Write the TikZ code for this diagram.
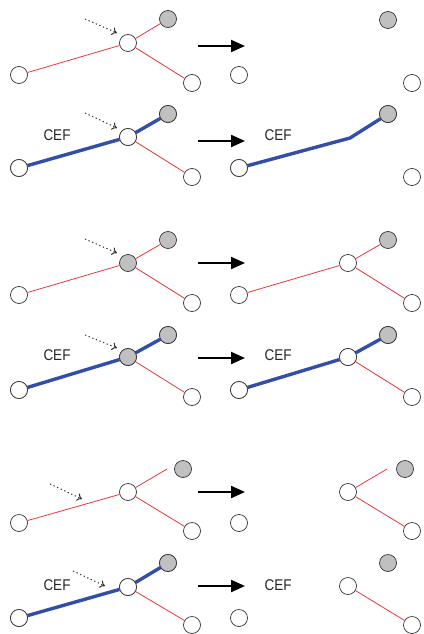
\documentclass[tikz,border=0pt]{standalone}
\usepackage{graphicx}
\usepackage{fontspec}
\setmainfont{Liberation Sans}
\usetikzlibrary{arrows.meta}
\definecolor{edgered}{RGB}{235,55,60}
\definecolor{pathblue}{RGB}{50,78,168}
\definecolor{nodegray}{RGB}{192,192,192}
\newcommand{\ceftext}{\scalebox{1}[1.15]{CEF}}
\tikzset{
  wn/.style={circle,draw=black!80,line width=0.7pt,fill=white,minimum size=17pt,inner sep=0pt},
  gn/.style={wn,fill=nodegray},
  rededge/.style={edgered,line width=0.8pt},
  blueedge/.style={pathblue,line width=3.4pt},
  bigarrow/.style={line width=2.2pt,-{Triangle[length=14pt,width=12pt]}},
  hintarrow/.style={black!80,line width=1pt,dash pattern=on 1.3pt off 2.6pt,-{To[length=5pt,width=8pt,line width=1pt]}},
  ceflabel/.style={font=\fontsize{13.5pt}{14pt}\selectfont,text=black!85,inner sep=0pt}
}
\begin{document}
\begin{tikzpicture}[x=1pt,y=-1pt]
\useasboundingbox (0,0) rectangle (423,634);
% ---------- Panel 1, row 1 ----------
\node[wn] (L1) at (19,75) {};
\node[wn] (C1) at (128,43) {};
\node[gn] (G1) at (168,19) {};
\node[wn] (R1) at (192,83) {};
\draw[rededge] (L1) -- (C1); \draw[rededge] (C1) -- (G1); \draw[rededge] (C1) -- (R1);
\coordinate (d1s) at (85,19); \coordinate (d1e) at (117,33);
\draw[hintarrow] (d1s) -- (d1e);
\coordinate (a1s) at (198,46); \coordinate (a1e) at (245,46);
\draw[bigarrow] (a1s) -- (a1e);
\node[gn] (G1r) at (388,20) {};
\node[wn] (L1r) at (239,75) {};
\node[wn] (R1r) at (412,83) {};
% ---------- Panel 1, row 2 ----------
\node[wn] (L2) at (19,168) {};
\node[wn] (C2) at (128,137) {};
\node[gn] (G2) at (168,114) {};
\node[wn] (R2) at (192,177) {};
\draw[rededge] (C2) -- (R2);
\draw[blueedge] (L2) -- (C2) -- (G2);
\node[wn] at (L2) {}; \node[wn] at (C2) {}; \node[gn] at (G2) {};
\node[ceflabel] (cef2) at (57,135) {\ceftext};
\coordinate (d2s) at (85,113); \coordinate (d2e) at (117,128);
\draw[hintarrow] (d2s) -- (d2e);
\coordinate (a2s) at (198,141); \coordinate (a2e) at (245,141);
\draw[bigarrow] (a2s) -- (a2e);
\node[wn] (L2r) at (239,168) {};
\node[gn] (G2r) at (388,114) {};
\node[wn] (R2r) at (412,177) {};
\coordinate (B2r) at (350,138);
\draw[blueedge,line join=round] (L2r) -- (B2r) -- (G2r);
\node[wn] at (L2r) {}; \node[gn] at (G2r) {};
\node[ceflabel] (cef2r) at (278,135) {\ceftext};
% ---------- Panel 2, row 3 ----------
\node[wn] (L3) at (19,295) {};
\node[gn] (C3) at (128,263) {};
\node[gn] (G3) at (168,240) {};
\node[wn] (R3) at (192,303) {};
\draw[rededge] (L3) -- (C3); \draw[rededge] (C3) -- (G3); \draw[rededge] (C3) -- (R3);
\coordinate (d3s) at (85,239); \coordinate (d3e) at (117,253);
\draw[hintarrow] (d3s) -- (d3e);
\coordinate (a3s) at (198,263); \coordinate (a3e) at (245,263);
\draw[bigarrow] (a3s) -- (a3e);
\node[wn] (L3r) at (239,295) {};
\node[wn] (C3r) at (348,263) {};
\node[gn] (G3r) at (388,240) {};
\node[wn] (R3r) at (412,303) {};
\draw[rededge] (L3r) -- (C3r); \draw[rededge] (C3r) -- (G3r); \draw[rededge] (C3r) -- (R3r);
% ---------- Panel 2, row 4 ----------
\node[wn] (L4) at (19,390) {};
\node[gn] (C4) at (128,357) {};
\node[gn] (G4) at (168,335) {};
\node[wn] (R4) at (192,397) {};
\draw[rededge] (C4) -- (R4);
\draw[blueedge] (L4) -- (C4) -- (G4);
\node[wn] at (L4) {}; \node[gn] at (C4) {}; \node[gn] at (G4) {};
\node[ceflabel] (cef4) at (57,355) {\ceftext};
\coordinate (d4s) at (85,335); \coordinate (d4e) at (117,348);
\draw[hintarrow] (d4s) -- (d4e);
\coordinate (a4s) at (198,358); \coordinate (a4e) at (245,358);
\draw[bigarrow] (a4s) -- (a4e);
\node[wn] (L4r) at (239,390) {};
\node[wn] (C4r) at (348,357) {};
\node[gn] (G4r) at (388,335) {};
\node[wn] (R4r) at (412,397) {};
\draw[rededge] (C4r) -- (R4r);
\draw[blueedge] (L4r) -- (C4r) -- (G4r);
\node[wn] at (L4r) {}; \node[wn] at (C4r) {}; \node[gn] at (G4r) {};
\node[ceflabel] (cef4r) at (278,355) {\ceftext};
% ---------- Panel 3, row 5 ----------
\node[wn] (L5) at (19,523) {};
\node[wn] (C5) at (128,492) {};
\node[gn] (G5) at (183,469) {};
\node[wn] (R5) at (192,531) {};
\coordinate (E5) at (167,469);
\draw[rededge] (L5) -- (C5); \draw[rededge] (C5) -- (E5); \draw[rededge] (C5) -- (R5);
\coordinate (d5s) at (50,484); \coordinate (d5e) at (82,499);
\draw[hintarrow] (d5s) -- (d5e);
\coordinate (a5s) at (198,492); \coordinate (a5e) at (245,492);
\draw[bigarrow] (a5s) -- (a5e);
\node[wn] (L5r) at (239,523) {};
\node[wn] (C5r) at (348,492) {};
\node[gn] (G5r) at (405,469) {};
\node[wn] (R5r) at (412,531) {};
\coordinate (E5r) at (387,469);
\draw[rededge] (C5r) -- (E5r); \draw[rededge] (C5r) -- (R5r);
% ---------- Panel 3, row 6 ----------
\node[wn] (L6) at (19,618) {};
\node[wn] (C6) at (128,587) {};
\node[gn] (G6) at (168,563) {};
\node[wn] (R6) at (192,625) {};
\draw[rededge] (C6) -- (R6);
\draw[blueedge] (L6) -- (C6) -- (G6);
\node[wn] at (L6) {}; \node[wn] at (C6) {}; \node[gn] at (G6) {};
\node[ceflabel] (cef6) at (57,585) {\ceftext};
\coordinate (d6s) at (73,571); \coordinate (d6e) at (105,586);
\draw[hintarrow] (d6s) -- (d6e);
\coordinate (a6s) at (198,586); \coordinate (a6e) at (245,586);
\draw[bigarrow] (a6s) -- (a6e);
\node[wn] (L6r) at (239,618) {};
\node[wn] (C6r) at (348,586) {};
\node[gn] (G6r) at (388,563) {};
\node[wn] (R6r) at (412,625) {};
\draw[rededge] (C6r) -- (R6r);
\node[ceflabel] (cef6r) at (278,585) {\ceftext};
\end{tikzpicture}
\end{document}
